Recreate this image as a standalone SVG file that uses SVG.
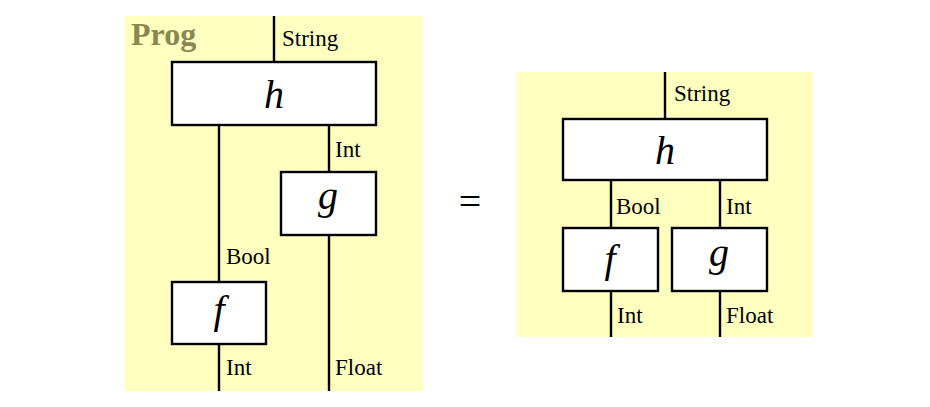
<svg xmlns="http://www.w3.org/2000/svg" width="930" height="407" viewBox="0 0 930 407">
<style>
.panel{fill:#ffffc0;stroke:none}
.box{fill:#fff;stroke:#000;stroke-width:2.4}
.wire{stroke:#000;stroke-width:2.4;fill:none}
.lbl{font-size:23px;fill:#000}
.fn{font-size:40px;font-style:italic;fill:#000;text-anchor:middle}
.title{font-size:32px;font-weight:bold;fill:#88884f}
</style>
<rect class="panel" x="125" y="16" width="298" height="375"/>
<rect class="panel" x="517" y="72" width="296" height="265"/>
<g font-family="'Liberation Serif', 'Times New Roman', 'DejaVu Serif', serif">
<text class="title" x="131" y="45">Prog</text>
<g id="connectors">
<line class="wire" x1="274" y1="16" x2="274" y2="62"/>
<line class="wire" x1="219" y1="125" x2="219" y2="282"/>
<line class="wire" x1="219" y1="344" x2="219" y2="391"/>
<line class="wire" x1="329" y1="125" x2="329" y2="172"/>
<line class="wire" x1="329" y1="235" x2="329" y2="391"/>
<line class="wire" x1="665" y1="72" x2="665" y2="119"/>
<line class="wire" x1="611" y1="180" x2="611" y2="228"/>
<line class="wire" x1="720" y1="180" x2="720" y2="228"/>
<line class="wire" x1="611" y1="291" x2="611" y2="337"/>
<line class="wire" x1="720" y1="291" x2="720" y2="337"/>
<text class="lbl" x="282" y="46">String</text>
<text class="lbl" x="335" y="157">Int</text>
<text class="lbl" x="226" y="264">Bool</text>
<text class="lbl" x="226" y="375">Int</text>
<text class="lbl" x="335" y="375">Float</text>
<text class="lbl" x="674" y="101">String</text>
<text class="lbl" x="616" y="214">Bool</text>
<text class="lbl" x="726" y="214">Int</text>
<text class="lbl" x="617" y="323">Int</text>
<text class="lbl" x="726" y="323">Float</text>
</g>
<g id="h1"><rect class="box" x="172" y="62" width="204" height="63"/><text class="fn" x="274" y="108">h</text></g>
<g id="g1"><rect class="box" x="281" y="172" width="95" height="63"/><text class="fn" x="328" y="209">g</text></g>
<g id="f1"><rect class="box" x="172" y="282" width="94" height="62"/><text class="fn" x="219" y="323">f</text></g>
<text x="470" y="215" font-size="40" text-anchor="middle">=</text>
<g id="h2"><rect class="box" x="563" y="119" width="204" height="61"/><text class="fn" x="665" y="164">h</text></g>
<g id="f2"><rect class="box" x="563" y="228" width="95" height="63"/><text class="fn" x="610" y="272">f</text></g>
<g id="g2"><rect class="box" x="672" y="228" width="95" height="63"/><text class="fn" x="719" y="266">g</text></g>
</g>
</svg>
